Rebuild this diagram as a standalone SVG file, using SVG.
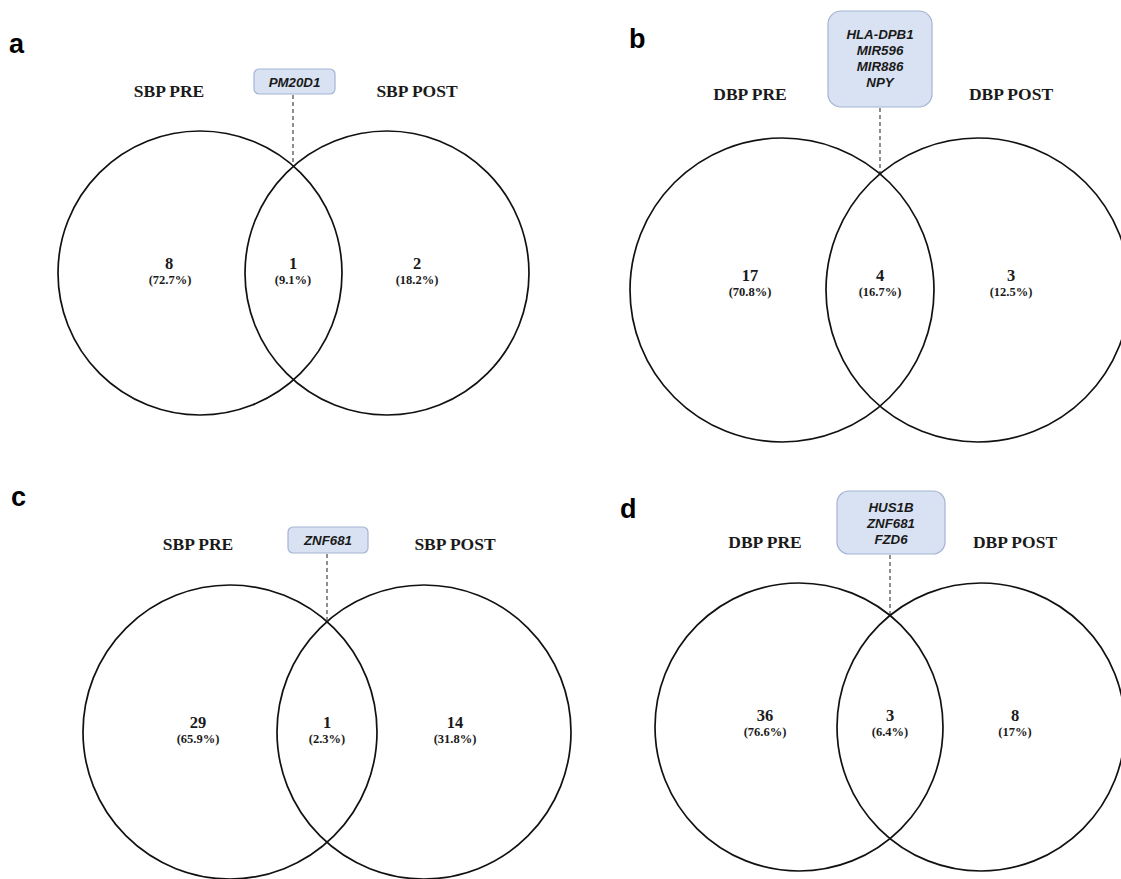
<svg xmlns="http://www.w3.org/2000/svg" width="1121" height="879" viewBox="0 0 1121 879">
<style>
.bg{fill:#ffffff}
.circ{fill:none;stroke:#111;stroke-width:1.7}
.lbl{font-family:"Liberation Serif","Times New Roman",serif;font-weight:bold;font-size:17.5px;fill:#1a1a1a;text-anchor:middle}
.num{font-family:"Liberation Serif","Times New Roman",serif;font-weight:bold;font-size:16.5px;fill:#1a1a1a;text-anchor:middle}
.pct{font-family:"Liberation Serif","Times New Roman",serif;font-weight:bold;font-size:12.5px;fill:#1a1a1a;text-anchor:middle}
.gene{font-family:"Liberation Sans",Arial,sans-serif;font-weight:bold;font-style:italic;font-size:13.3px;fill:#1a1a1a;text-anchor:middle}
.box{fill:#d9e2f2;stroke:#a3b5d3;stroke-width:1.2}
.dash{stroke:#333;stroke-width:1.1;stroke-dasharray:4 3;fill:none}
.panel{font-family:"Liberation Sans",Arial,sans-serif;font-weight:bold;font-size:27px;fill:#000}
</style>
<rect class="bg" x="0" y="0" width="1121" height="879"/>

<g id="connectors">
  <line class="dash" x1="293" y1="95" x2="293" y2="166"/>
  <line class="dash" x1="880" y1="108" x2="880" y2="174"/>
  <line class="dash" x1="327" y1="554" x2="327" y2="620"/>
  <line class="dash" x1="890" y1="555" x2="890" y2="617"/>
</g>

<!-- Panel a -->
<g id="panel-a">
  <text class="panel" x="9" y="53">a</text>
  <g id="a-pre"><circle class="circ" cx="200" cy="273" r="142"/>
    <text class="lbl" x="169" y="97">SBP PRE</text>
    <text class="num" x="169" y="268.5">8</text>
    <text class="pct" x="170" y="283.5">(72.7%)</text></g>
  <g id="a-post"><circle class="circ" cx="387" cy="273" r="142"/>
    <text class="lbl" x="417" y="97">SBP POST</text>
    <text class="num" x="417" y="268.5">2</text>
    <text class="pct" x="417" y="283.5">(18.2%)</text></g>
  <g id="a-shared">
    <text class="num" x="293" y="268.5">1</text>
    <text class="pct" x="293" y="283.5">(9.1%)</text></g>
  <g id="a-box"><rect class="box" x="254" y="69" width="81" height="25" rx="5"/>
    <text class="gene" x="294.5" y="87">PM20D1</text></g>
</g>

<!-- Panel b -->
<g id="panel-b">
  <text class="panel" x="629" y="48">b</text>
  <g id="b-pre"><circle class="circ" cx="782" cy="290" r="152"/>
    <text class="lbl" x="750" y="100">DBP PRE</text>
    <text class="num" x="750" y="281">17</text>
    <text class="pct" x="750" y="296">(70.8%)</text></g>
  <g id="b-post"><circle class="circ" cx="978" cy="290" r="152"/>
    <text class="lbl" x="1011" y="100">DBP POST</text>
    <text class="num" x="1011" y="281">3</text>
    <text class="pct" x="1011" y="296">(12.5%)</text></g>
  <g id="b-shared">
    <text class="num" x="880" y="281">4</text>
    <text class="pct" x="880" y="296">(16.7%)</text></g>
  <g id="b-box"><rect class="box" x="828" y="11" width="104" height="96" rx="13"/>
    <text class="gene" x="880" y="39">HLA-DPB1</text>
    <text class="gene" x="880" y="55">MIR596</text>
    <text class="gene" x="880" y="71">MIR886</text>
    <text class="gene" x="880" y="87">NPY</text></g>
</g>

<!-- Panel c -->
<g id="panel-c">
  <text class="panel" x="11" y="506">c</text>
  <g id="c-pre"><circle class="circ" cx="230" cy="732" r="147"/>
    <text class="lbl" x="198" y="550">SBP PRE</text>
    <text class="num" x="198" y="728">29</text>
    <text class="pct" x="198" y="743">(65.9%)</text></g>
  <g id="c-post"><circle class="circ" cx="424" cy="732" r="147"/>
    <text class="lbl" x="455" y="550">SBP POST</text>
    <text class="num" x="455" y="728">14</text>
    <text class="pct" x="455" y="743">(31.8%)</text></g>
  <g id="c-shared">
    <text class="num" x="327" y="728">1</text>
    <text class="pct" x="327" y="743">(2.3%)</text></g>
  <g id="c-box"><rect class="box" x="288" y="527" width="80" height="26" rx="5"/>
    <text class="gene" x="328" y="545">ZNF681</text></g>
</g>

<!-- Panel d -->
<g id="panel-d">
  <text class="panel" x="620" y="518">d</text>
  <g id="d-pre"><circle class="circ" cx="799" cy="727" r="144"/>
    <text class="lbl" x="765" y="548">DBP PRE</text>
    <text class="num" x="765" y="721">36</text>
    <text class="pct" x="765" y="736">(76.6%)</text></g>
  <g id="d-post"><circle class="circ" cx="981" cy="727" r="144"/>
    <text class="lbl" x="1015" y="548">DBP POST</text>
    <text class="num" x="1015" y="721">8</text>
    <text class="pct" x="1015" y="736">(17%)</text></g>
  <g id="d-shared">
    <text class="num" x="890" y="721">3</text>
    <text class="pct" x="890" y="736">(6.4%)</text></g>
  <g id="d-box"><rect class="box" x="837" y="491" width="108" height="63" rx="12"/>
    <text class="gene" x="891" y="512">HUS1B</text>
    <text class="gene" x="891" y="528">ZNF681</text>
    <text class="gene" x="891" y="544">FZD6</text></g>
</g>
</svg>
